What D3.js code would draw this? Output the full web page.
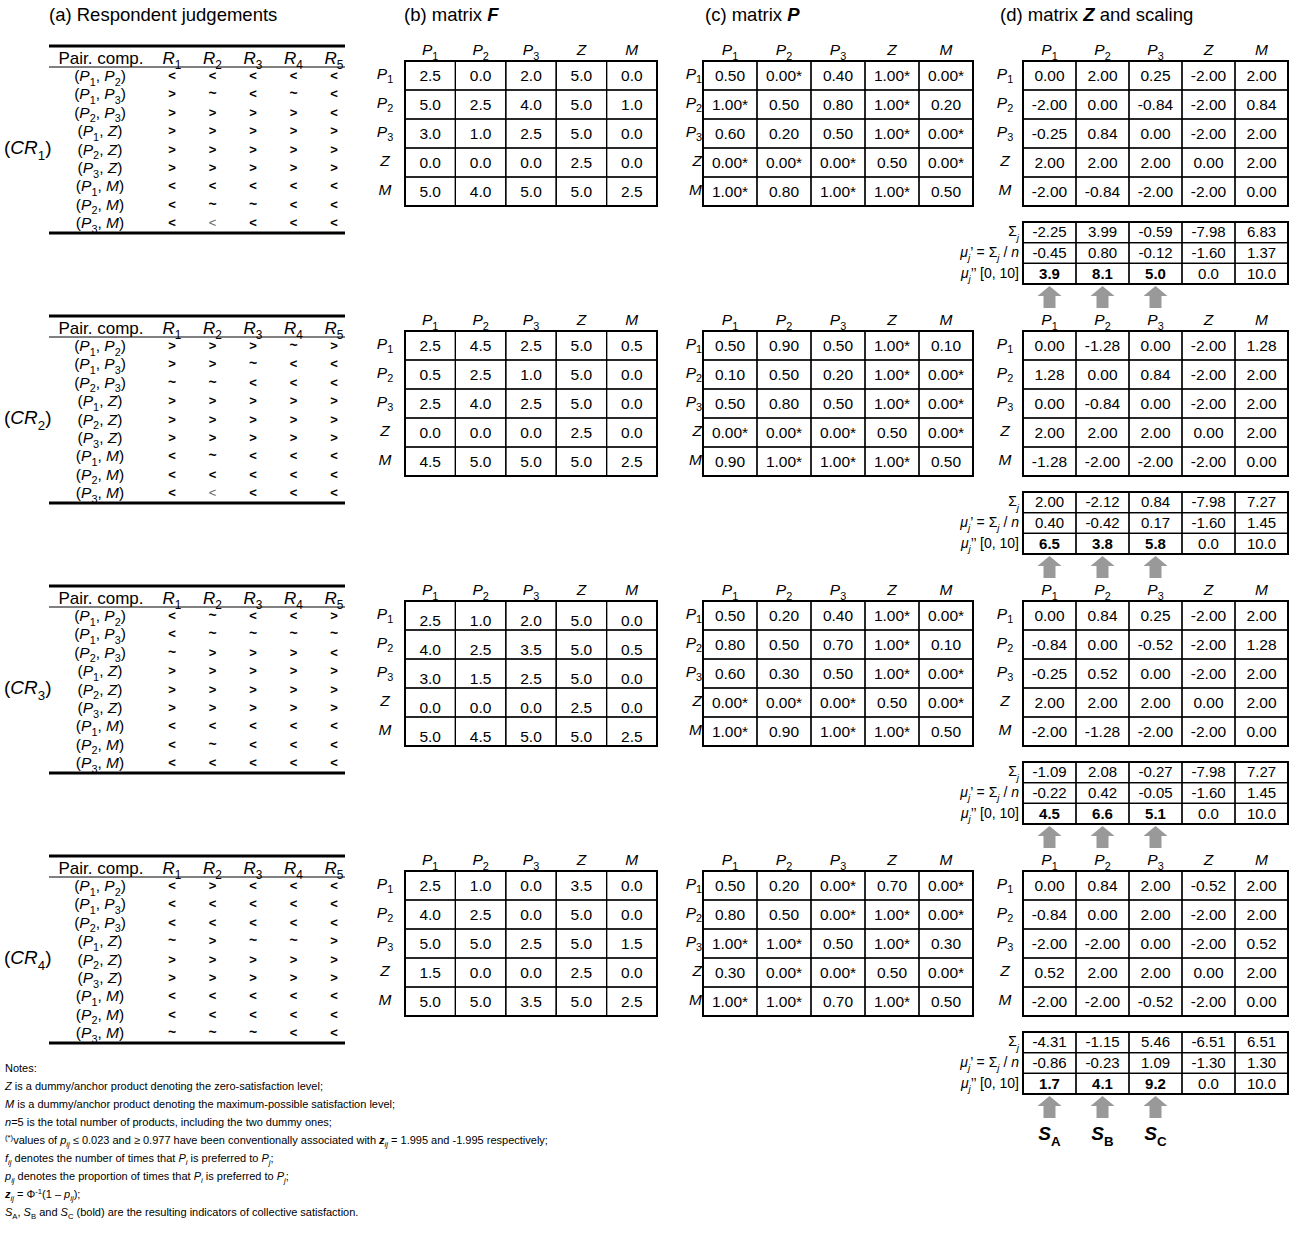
<!DOCTYPE html>
<html lang="en">
<head>
<meta charset="utf-8">
<title>Paired comparisons and Thurstone scaling</title>
<script src="https://d3js.org/d3.v7.min.js"></script>
<style>
    body { margin: 0; background: white; }
    svg text { font-family: Arial, "Liberation Sans", sans-serif; fill: #000; }
</style>
</head>
<body>
<script>
var width = 1296, height = 1241;

var products = ["P1", "P2", "P3", "Z", "M"];
var pairs = [["P1","P2"],["P1","P3"],["P2","P3"],["P1","Z"],["P2","Z"],["P3","Z"],["P1","M"],["P2","M"],["P3","M"]];
var respondents = ["R1", "R2", "R3", "R4", "R5"];
var crLabels = ["1", "2", "3", "4"];

// one string per pair, one character per respondent
var judgements = [
    ["<<<<<", ">~<~<", ">>>><", ">>>>>", ">>>>>", ">>>>>", "<<<<<", "<~~<<", "<<<<<"],
    [">>>~>", ">>~<<", "~~<<<", ">>>>>", ">>>>>", ">>>>>", "<~<<<", "<<<<<", "<<<<<"],
    ["<~<<>", "<~~~~", "~>>><", ">>>>>", ">>>>>", ">>>>>", "<<<<<", "<~<<<", "<<<<<"],
    ["<><<<", "<<<<<", "<<<<<", "~>~~>", ">>>>>", ">>>>>", "<<<<<", "<<<<<", "~~~<<"]
];
var thinMarks = [[0, 8, 1], [1, 8, 1]]; // [block, pair, respondent]

var F = [
    [[2.5,0.0,2.0,5.0,0.0],[5.0,2.5,4.0,5.0,1.0],[3.0,1.0,2.5,5.0,0.0],[0.0,0.0,0.0,2.5,0.0],[5.0,4.0,5.0,5.0,2.5]],
    [[2.5,4.5,2.5,5.0,0.5],[0.5,2.5,1.0,5.0,0.0],[2.5,4.0,2.5,5.0,0.0],[0.0,0.0,0.0,2.5,0.0],[4.5,5.0,5.0,5.0,2.5]],
    [[2.5,1.0,2.0,5.0,0.0],[4.0,2.5,3.5,5.0,0.5],[3.0,1.5,2.5,5.0,0.0],[0.0,0.0,0.0,2.5,0.0],[5.0,4.5,5.0,5.0,2.5]],
    [[2.5,1.0,0.0,3.5,0.0],[4.0,2.5,0.0,5.0,0.0],[5.0,5.0,2.5,5.0,1.5],[1.5,0.0,0.0,2.5,0.0],[5.0,5.0,3.5,5.0,2.5]]
];

var P = [
    [[0.50,0.00,0.40,1.00,0.00],[1.00,0.50,0.80,1.00,0.20],[0.60,0.20,0.50,1.00,0.00],[0.00,0.00,0.00,0.50,0.00],[1.00,0.80,1.00,1.00,0.50]],
    [[0.50,0.90,0.50,1.00,0.10],[0.10,0.50,0.20,1.00,0.00],[0.50,0.80,0.50,1.00,0.00],[0.00,0.00,0.00,0.50,0.00],[0.90,1.00,1.00,1.00,0.50]],
    [[0.50,0.20,0.40,1.00,0.00],[0.80,0.50,0.70,1.00,0.10],[0.60,0.30,0.50,1.00,0.00],[0.00,0.00,0.00,0.50,0.00],[1.00,0.90,1.00,1.00,0.50]],
    [[0.50,0.20,0.00,0.70,0.00],[0.80,0.50,0.00,1.00,0.00],[1.00,1.00,0.50,1.00,0.30],[0.30,0.00,0.00,0.50,0.00],[1.00,1.00,0.70,1.00,0.50]]
];

var Z = [
    [[0.00,2.00,0.25,-2.00,2.00],[-2.00,0.00,-0.84,-2.00,0.84],[-0.25,0.84,0.00,-2.00,2.00],[2.00,2.00,2.00,0.00,2.00],[-2.00,-0.84,-2.00,-2.00,0.00]],
    [[0.00,-1.28,0.00,-2.00,1.28],[1.28,0.00,0.84,-2.00,2.00],[0.00,-0.84,0.00,-2.00,2.00],[2.00,2.00,2.00,0.00,2.00],[-1.28,-2.00,-2.00,-2.00,0.00]],
    [[0.00,0.84,0.25,-2.00,2.00],[-0.84,0.00,-0.52,-2.00,1.28],[-0.25,0.52,0.00,-2.00,2.00],[2.00,2.00,2.00,0.00,2.00],[-2.00,-1.28,-2.00,-2.00,0.00]],
    [[0.00,0.84,2.00,-0.52,2.00],[-0.84,0.00,2.00,-2.00,2.00],[-2.00,-2.00,0.00,-2.00,0.52],[0.52,2.00,2.00,0.00,2.00],[-2.00,-2.00,-0.52,-2.00,0.00]]
];

var sums = [
    [-2.25, 3.99, -0.59, -7.98, 6.83],
    [2.00, -2.12, 0.84, -7.98, 7.27],
    [-1.09, 2.08, -0.27, -7.98, 7.27],
    [-4.31, -1.15, 5.46, -6.51, 6.51]
];
var muPrime = [
    [-0.45, 0.80, -0.12, -1.60, 1.37],
    [0.40, -0.42, 0.17, -1.60, 1.45],
    [-0.22, 0.42, -0.05, -1.60, 1.45],
    [-0.86, -0.23, 1.09, -1.30, 1.30]
];
var muScaled = [
    [3.9, 8.1, 5.0, 0.0, 10.0],
    [6.5, 3.8, 5.8, 0.0, 10.0],
    [4.5, 6.6, 5.1, 0.0, 10.0],
    [1.7, 4.1, 9.2, 0.0, 10.0]
];
var indicators = ["A", "B", "C"];

var notes = [
    [["Notes:"]],
    [["Z", "i"], [" is a dummy/anchor product denoting the zero-satisfaction level;"]],
    [["M", "i"], [" is a dummy/anchor product denoting the maximum-possible satisfaction level;"]],
    [["n", "i"], ["=5 is the total number of products, including the two dummy ones;"]],
    [["(*)", "sup"], ["values of "], ["p", "i"], ["ij", "i sub"], [" \u2264 0.023 and \u2265 0.977 have been conventionally associated with "], ["z", "i b"], ["ij", "i sub"], [" = 1.995 and -1.995 respectively;"]],
    [["f", "i"], ["ij", "i sub"], [" denotes the number of times that "], ["P", "i"], ["i", "i sub"], [" is preferred to "], ["P", "i"], ["j", "i sub"], [";"]],
    [["p", "i"], ["ij", "i sub"], [" denotes the proportion of times that "], ["P", "i"], ["i", "i sub"], [" is preferred to "], ["P", "i"], ["j", "i sub"], [";"]],
    [["z", "i b"], ["ij", "i sub"], ["  = \u03A6"], ["-1", "sup"], ["(1 \u2013 "], ["p", "i"], ["ij", "i sub"], [");"]],
    [["S", "i"], ["A", "sub"], [", "], ["S", "i"], ["B", "sub"], [" and "], ["S", "i"], ["C", "sub"], [" (bold) are the resulting indicators of collective satisfaction."]]
];

// ---------- helpers ----------
var locale = d3.formatLocale({decimal: ".", thousands: ",", grouping: [3], currency: ["", ""], minus: "-"});
var f1 = locale.format(".1f"), f2 = locale.format(".2f");

function rich(text, parts, fs) {
    var cur = 0;
    parts.forEach(function(p) {
        var s = (p[1] || "").split(" ");
        var small = s.indexOf("sub") >= 0 || s.indexOf("sup") >= 0;
        var target = 0;
        if (s.indexOf("sub") >= 0) target = fs * 0.3;
        if (s.indexOf("sup") >= 0) target = -fs * 0.4;
        var t = text.append("tspan").text(p[0]).attr("dy", target - cur);
        cur = target;
        if (small) t.attr("font-size", fs * 0.7);
        if (s.indexOf("i") >= 0) t.attr("font-style", "italic");
        if (s.indexOf("b") >= 0) t.attr("font-weight", "bold");
    });
    return text;
}
function prodParts(p) {
    return p.length > 1 ? [[p[0], "i"], [p.slice(1), "sub"]] : [[p, "i"]];
}

var svg = d3.select("body").append("svg")
    .attr("width", width)
    .attr("height", height);

// ---------- titles ----------
var titles = [
    [49, [["(a) Respondent judgements"]]],
    [404, [["(b) matrix "], ["F", "i b"]]],
    [705, [["(c) matrix "], ["P", "i b"]]],
    [1000, [["(d) matrix "], ["Z", "i b"], [" and scaling"]]]
];
titles.forEach(function(t) {
    rich(svg.append("text").attr("x", t[0]).attr("y", 21).attr("font-size", 18.5), t[1], 18.5);
});

// ---------- scales ----------
var blockY = d3.scaleLinear().domain([0, 1]).range([40, 310]);
var xJ = d3.scalePoint().domain(respondents).range([172, 334]);
var yJ = d3.scalePoint().domain(d3.range(9)).range([36, 183]);
var xF = d3.scaleBand().domain(products).range([405, 657]);
var xP = d3.scaleBand().domain(products).range([703, 973]);
var xZ = d3.scaleBand().domain(products).range([1023, 1288]);
var yRow = d3.scaleBand().domain(products).range([21, 166]);
var yStat = d3.scaleBand().domain(["sum", "mu1", "mu2"]).range([182, 244]);

var FS = 15.5;

function drawMatrix(g, x, values, fmt, labelX, labelAnchor, textShift) {
    products.forEach(function(p) {
        rich(g.append("text").attr("x", x(p) + x.bandwidth() / 2).attr("y", 15)
            .attr("text-anchor", "middle").attr("font-size", FS), prodParts(p), FS);
    });
    products.forEach(function(p) {
        rich(g.append("text").attr("x", labelX).attr("y", yRow(p) + yRow.bandwidth() / 2 + 3)
            .attr("text-anchor", labelAnchor).attr("font-size", FS), prodParts(p), FS);
    });
    values.forEach(function(row, i) {
        row.forEach(function(v, j) {
            g.append("rect")
                .attr("x", x(products[j])).attr("y", yRow(products[i]))
                .attr("width", x.bandwidth()).attr("height", yRow.bandwidth())
                .attr("fill", "none").attr("stroke", "#000").attr("stroke-width", 1.2);
            g.append("text")
                .attr("x", x(products[j]) + x.bandwidth() / 2)
                .attr("y", yRow(products[i]) + yRow.bandwidth() / 2 + 5.5 + textShift)
                .attr("text-anchor", "middle").attr("font-size", FS)
                .text(fmt(v));
        });
    });
    g.append("rect")
        .attr("x", x.range()[0]).attr("y", yRow.range()[0])
        .attr("width", x.range()[1] - x.range()[0]).attr("height", yRow.range()[1] - yRow.range()[0])
        .attr("fill", "none").attr("stroke", "#000").attr("stroke-width", 2);
}

crLabels.forEach(function(cr, b) {
    var g = svg.append("g").attr("transform", "translate(0," + blockY(b) + ")");

    // ----- (a) judgements table -----
    g.append("line").attr("x1", 49).attr("x2", 345).attr("y1", 6).attr("y2", 6)
        .attr("stroke", "#000").attr("stroke-width", 3);
    g.append("line").attr("x1", 49).attr("x2", 345).attr("y1", 27).attr("y2", 27)
        .attr("stroke", "#000").attr("stroke-width", 1);
    g.append("line").attr("x1", 49).attr("x2", 345).attr("y1", 193).attr("y2", 193)
        .attr("stroke", "#000").attr("stroke-width", 3);
    g.append("text").attr("x", 101).attr("y", 24).attr("text-anchor", "middle")
        .attr("font-size", 17).text("Pair. comp.");
    respondents.forEach(function(r) {
        rich(g.append("text").attr("x", xJ(r)).attr("y", 24).attr("text-anchor", "middle")
            .attr("font-size", 17), prodParts(r), 17);
    });
    pairs.forEach(function(pr, i) {
        var parts = [["("]].concat(prodParts(pr[0]), [[", "]], prodParts(pr[1]), [[")"]]);
        rich(g.append("text").attr("x", 100).attr("y", yJ(i) + 5).attr("text-anchor", "middle")
            .attr("font-size", 15.5), parts, 15.5);
        judgements[b][i].split("").forEach(function(c, k) {
            var thin = thinMarks.some(function(m) { return m[0] === b && m[1] === i && m[2] === k; });
            g.append("text").attr("x", xJ(respondents[k])).attr("y", yJ(i) + 4)
                .attr("text-anchor", "middle")
                .attr("font-size", c === "~" ? 14 : 13)
                .attr("font-weight", thin ? "normal" : "bold")
                .style("fill", thin ? "#666" : "#000")
                .text(c);
        });
    });
    rich(g.append("text").attr("x", 4).attr("y", 114).attr("font-size", 19),
        [["("], ["CR", "i"], [cr, "sub"], [")"]], 19);

    // ----- (b) F, (c) P, (d) Z -----
    drawMatrix(g.append("g"), xF, F[b], f1, 385, "middle", b === 2 ? 5 : 0);
    drawMatrix(g.append("g"), xP, P[b], function(v) {
        return f2(v) + (v === 0 || v === 1 ? "*" : "");
    }, 702, "end", 0);
    drawMatrix(g.append("g"), xZ, Z[b], f2, 1005, "middle", 0);

    // ----- scaling rows -----
    var stats = [["sum", sums[b]], ["mu1", muPrime[b]], ["mu2", muScaled[b]]];
    var statLabels = {
        sum: [["\u03A3"], ["j", "i sub"]],
        mu1: [["\u03BC", "i"], ["j", "i sub"], ["\u2019 = \u03A3"], ["j", "i sub"], [" / "], ["n", "i"]],
        mu2: [["\u03BC", "i"], ["j", "i sub"], ["\u2019\u2019 [0, 10]"]]
    };
    stats.forEach(function(s) {
        var key = s[0];
        rich(g.append("text").attr("x", 1019).attr("y", yStat(key) + yStat.bandwidth() / 2 + 4)
            .attr("text-anchor", "end").attr("font-size", 14), statLabels[key], 14);
        s[1].forEach(function(v, j) {
            g.append("rect")
                .attr("x", xZ(products[j])).attr("y", yStat(key))
                .attr("width", xZ.bandwidth()).attr("height", yStat.bandwidth())
                .attr("fill", "none").attr("stroke", "#000").attr("stroke-width", 1.2);
            g.append("text")
                .attr("x", xZ(products[j]) + xZ.bandwidth() / 2)
                .attr("y", yStat(key) + yStat.bandwidth() / 2 + 5)
                .attr("text-anchor", "middle").attr("font-size", 15)
                .attr("font-weight", key === "mu2" && j < 3 ? "bold" : "normal")
                .text(key === "mu2" ? f1(v) : f2(v));
        });
    });
    g.append("rect")
        .attr("x", xZ.range()[0]).attr("y", yStat.range()[0])
        .attr("width", xZ.range()[1] - xZ.range()[0]).attr("height", yStat.range()[1] - yStat.range()[0])
        .attr("fill", "none").attr("stroke", "#000").attr("stroke-width", 2);

    // ----- arrows -----
    products.slice(0, 3).forEach(function(p, j) {
        var cx = xZ(p) + xZ.bandwidth() / 2, top = 246;
        var path = d3.path();
        path.moveTo(cx, top);
        path.lineTo(cx + 12, top + 10);
        path.lineTo(cx + 6, top + 10);
        path.lineTo(cx + 6, top + 22);
        path.lineTo(cx - 6, top + 22);
        path.lineTo(cx - 6, top + 10);
        path.lineTo(cx - 12, top + 10);
        path.closePath();
        g.append("path").attr("d", path.toString()).attr("fill", "#999");
        if (b === crLabels.length - 1) {
            rich(g.append("text").attr("x", cx).attr("y", top + 44).attr("text-anchor", "middle")
                .attr("font-size", 19).attr("font-weight", "bold"),
                [["S", "i b"], [indicators[j], "sub"]], 19);
        }
    });
});

// ---------- notes ----------
notes.forEach(function(n, i) {
    rich(svg.append("text").attr("x", 5).attr("y", 1072 + i * 18).attr("font-size", 11), n, 11);
});
</script>
</body>
</html>
